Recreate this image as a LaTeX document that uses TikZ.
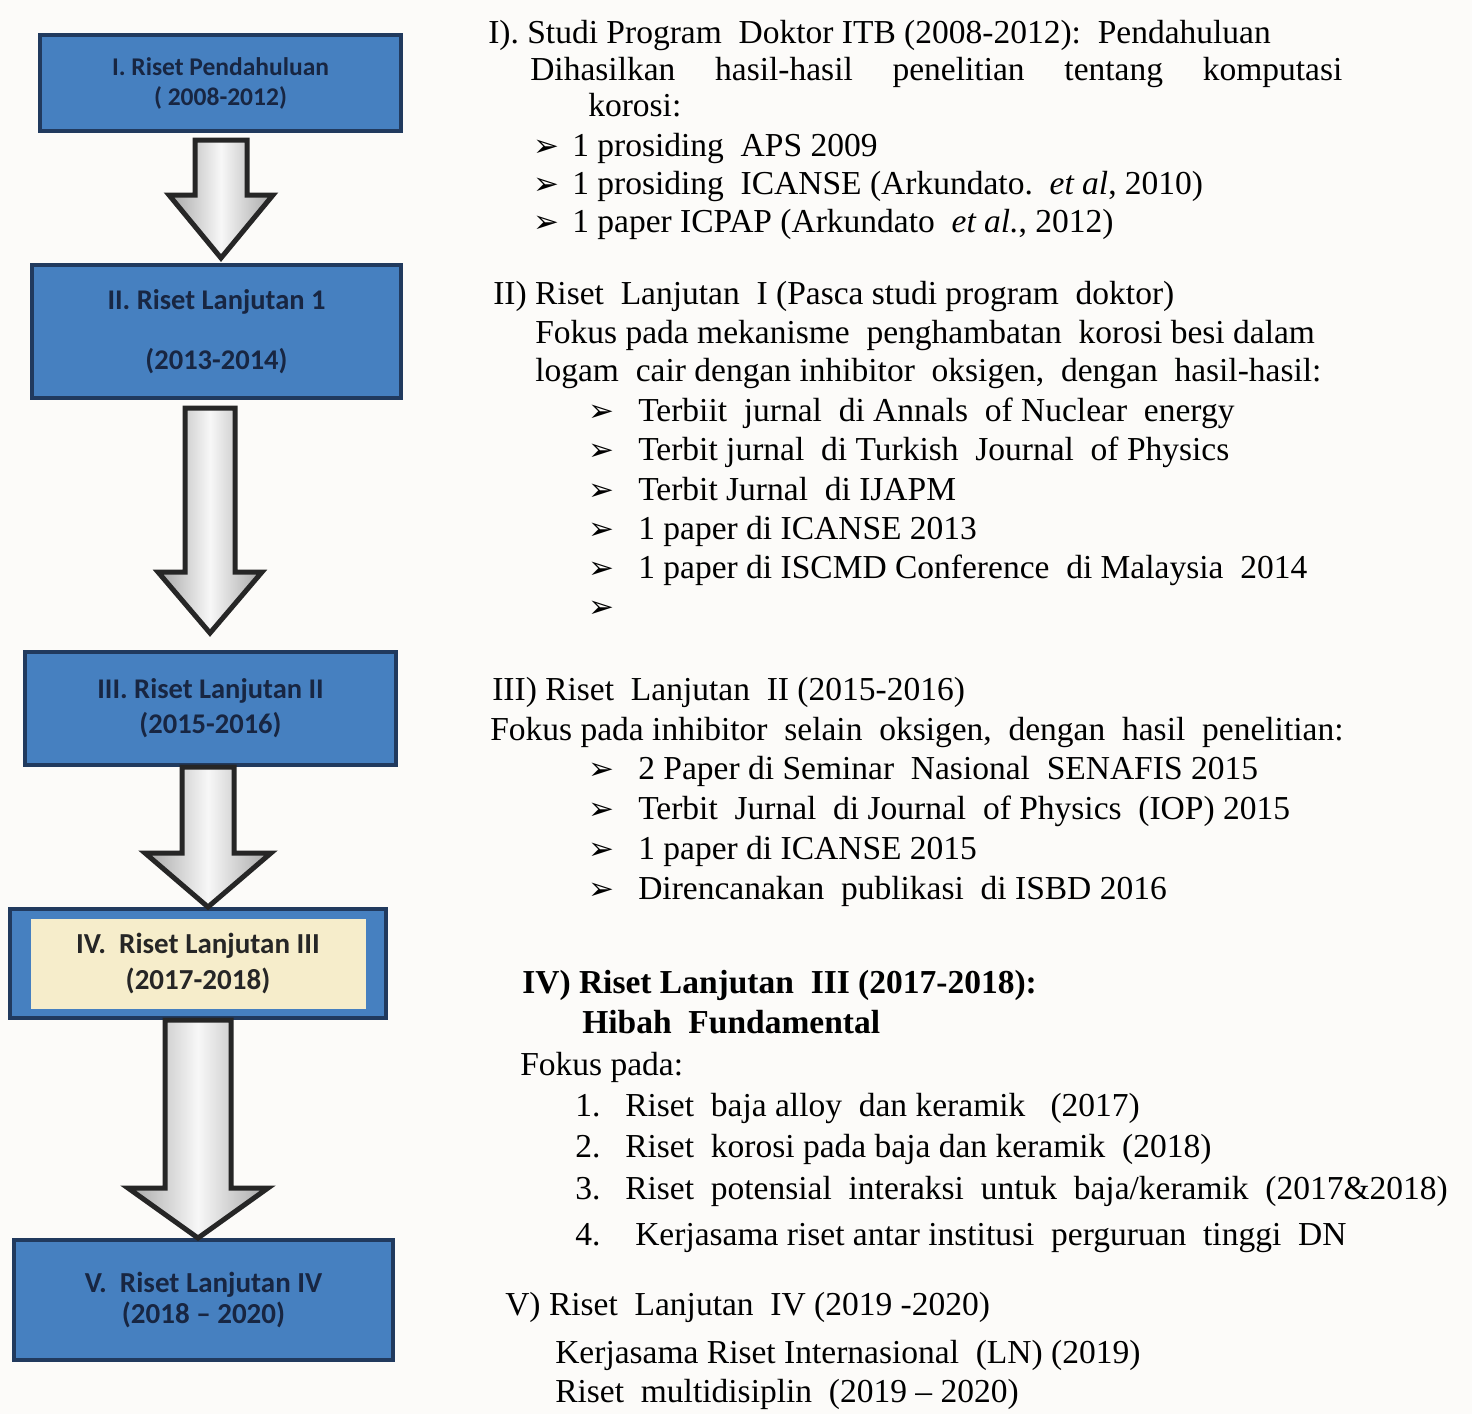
\documentclass[tikz,border=0pt]{standalone}
\usepackage{fontspec}
\setmainfont{Liberation Serif}
\newfontfamily\boxfont{Carlito}
\newfontfamily\arrowfont{DejaVu Sans}
\usepackage{tikz}
\usetikzlibrary{positioning,calc}
\definecolor{stageblue}{RGB}{70,128,192}
\definecolor{stageline}{RGB}{33,58,94}
\definecolor{stagetext}{RGB}{24,38,66}
\definecolor{cream}{RGB}{246,237,203}
\definecolor{paper}{RGB}{252,251,249}
\tikzstyle{stage}=[draw=stageline,line width=4pt,fill=stageblue,text=stagetext,align=center,
  font=\boxfont\bfseries\fontsize{28.5}{35}\selectfont]
\tikzstyle{inlay}=[fill=cream,text=black!85,align=center,inner sep=0pt,
  font=\boxfont\bfseries\fontsize{29}{36}\selectfont]
\tikzstyle{txt}=[anchor=base west,inner sep=0pt,font=\fontsize{33.5}{40}\selectfont]
\tikzstyle{bul}=[anchor=base west,inner sep=0pt,font=\arrowfont\fontsize{31}{36}\selectfont]
\tikzstyle{fat}=[draw=black!85,line width=5pt,line join=miter,
  left color=gray!70,right color=gray!70,middle color=white!94!gray]
\newcommand{\newStage}[4]{\node[stage,#3](#1)[#4]{#2};}
\newcommand{\newLine}[3]{\node[txt](#1) at (#2){#3};}
\newcommand{\newItem}[5]{\node[bul](#1m) at (#2,#4){➢}; \node[txt](#1) at (#3,#4){#5};}
\newcommand{\newNum}[6]{\node[txt](#1m) at (#2,#4){#5}; \node[txt](#1) at (#3,#4){#6};}
% from, to, centre x, shaft half, head half, head length, top gap, tip gap
\newcommand{\newArrow}[8]{%
  \coordinate (#1#2a) at (#3,0 |- #1.south);
  \coordinate (#1#2b) at (#3,0 |- #2.north);
  \path[fat] ($(#1#2a)+(-#4,#7)$) -- ($(#1#2b)+(-#4,-#6-#8)$) -- ($(#1#2b)+(-#5,-#6-#8)$)
    -- ($(#1#2b)+(0,-#8)$) -- ($(#1#2b)+(#5,-#6-#8)$) -- ($(#1#2b)+(#4,-#6-#8)$)
    -- ($(#1#2a)+(#4,#7)$) -- cycle;}

\begin{document}
\begin{tikzpicture}[x=1pt,y=-1pt,node distance=130pt and 0pt,
      >=latex,
      semithick  %thick boxes come from the styles
      ]
      \fill[paper] (0,0) rectangle (1472,1414);
      \useasboundingbox (0,0) rectangle (1472,1414);

      \newStage{b1}{I. Riset Pendahuluan\\( 2008-2012)}{minimum width=361pt,minimum height=96pt,font=\boxfont\bfseries\fontsize{25.5}{30}\selectfont}{at={(220.5,83)}}
      \newStage{b2}{II. Riset Lanjutan 1\\[25pt](2013-2014)}{minimum width=369pt,minimum height=133pt}{below=130pt of b1,xshift=-4pt}
      \newStage{b3}{III. Riset Lanjutan II\\(2015-2016)}{minimum width=371pt,minimum height=113pt}{below=250pt of b2,xshift=-6pt}
      \newStage{b4}{}{minimum width=376pt,minimum height=109pt}{below=140pt of b3,xshift=-12.5pt}
      \node[inlay,minimum width=335pt,minimum height=90pt](b4in) at (b4.center){IV.\ \ Riset Lanjutan III\\(2017-2018)};
      \newStage{b5}{V.\ \ Riset Lanjutan IV\\(2018 – 2020)}{minimum width=379pt,minimum height=120pt,font=\boxfont\bfseries\fontsize{29}{31}\selectfont}{below=218pt of b4,xshift=5.5pt}

      \newArrow{b1}{b2}{221}{26}{52}{63}{7}{5}
      \newArrow{b2}{b3}{210}{25}{52}{61}{8}{17}
      \newArrow{b3}{b4}{208}{26}{63}{54}{0}{0}
      \newArrow{b4}{b5}{198}{33}{70}{50}{0}{0}

      \newLine{t1}{488,43}{I). Studi Program\ \ Doktor ITB (2008-2012):\ \ Pendahuluan}
      \newLine{t1a}{530,80}{\makebox[812pt][s]{Dihasilkan hasil-hasil penelitian tentang komputasi}}
      \newLine{t1b}{588,116}{korosi:}
      \newItem{p1}{533}{572}{156}{1 prosiding\ \ APS 2009}
      \newItem{p2}{533}{572}{194}{1 prosiding\ \ ICANSE (Arkundato.\ \ \textit{et al}, 2010)}
      \newItem{p3}{533}{572}{232}{1 paper ICPAP (Arkundato\ \ \textit{et al.}, 2012)}

      \newLine{t2}{493,304}{II) Riset\ \ Lanjutan\ \ I (Pasca studi program\ \ doktor)}
      \newLine{t2a}{535,343}{Fokus pada mekanisme\ \ penghambatan\ \ korosi besi dalam}
      \newLine{t2b}{535,381}{logam\ \ cair dengan inhibitor\ \ oksigen,\ \ dengan\ \ hasil-hasil:}
      \newItem{q1}{588}{638}{421}{Terbiit\ \ jurnal\ \ di Annals\ \ of Nuclear\ \ energy}
      \newItem{q2}{588}{638}{460}{Terbit jurnal\ \ di Turkish\ \ Journal\ \ of Physics}
      \newItem{q3}{588}{638}{500}{Terbit Jurnal\ \ di IJAPM}
      \newItem{q4}{588}{638}{539}{1 paper di ICANSE 2013}
      \newItem{q5}{588}{638}{578}{1 paper di ISCMD Conference\ \ di Malaysia\ \ 2014}
      \node[bul](q6m) at (588,617){➢};

      \newLine{t3}{492,700}{III) Riset\ \ Lanjutan\ \ II (2015-2016)}
      \newLine{t3a}{490,740}{Fokus pada inhibitor\ \ selain\ \ oksigen,\ \ dengan\ \ hasil\ \ penelitian:}
      \newItem{r1}{588}{638}{779}{2 Paper di Seminar\ \ Nasional\ \ SENAFIS 2015}
      \newItem{r2}{588}{638}{819}{Terbit\ \ Jurnal\ \ di Journal\ \ of Physics\ \ (IOP) 2015}
      \newItem{r3}{588}{638}{859}{1 paper di ICANSE 2015}
      \newItem{r4}{588}{638}{899}{Direncanakan\ \ publikasi\ \ di ISBD 2016}

      \newLine{t4}{522,993}{\bfseries IV) Riset Lanjutan\ \ III (2017-2018):}
      \newLine{t4a}{582,1033}{\bfseries Hibah\ \ Fundamental}
      \newLine{t4b}{520,1075}{Fokus pada:}
      \newNum{s1}{575}{625}{1116}{1.}{Riset\ \ baja alloy\ \ dan keramik\ \ \ (2017)}
      \newNum{s2}{575}{625}{1157}{2.}{Riset\ \ korosi pada baja dan keramik\ \ (2018)}
      \newNum{s3}{575}{625}{1199}{3.}{Riset\ \ potensial\ \ interaksi\ \ untuk\ \ baja/keramik\ \ (2017\&2018)}
      \newNum{s4}{575}{635}{1245}{4.}{Kerjasama riset antar institusi\ \ perguruan\ \ tinggi\ \ DN}

      \newLine{t5}{505,1315}{V) Riset\ \ Lanjutan\ \ IV (2019 -2020)}
      \newLine{t5a}{555,1363}{Kerjasama Riset Internasional\ \ (LN) (2019)}
      \newLine{t5b}{555,1402}{Riset\ \ multidisiplin\ \ (2019 -- 2020)}
    \end{tikzpicture}
\end{document}
